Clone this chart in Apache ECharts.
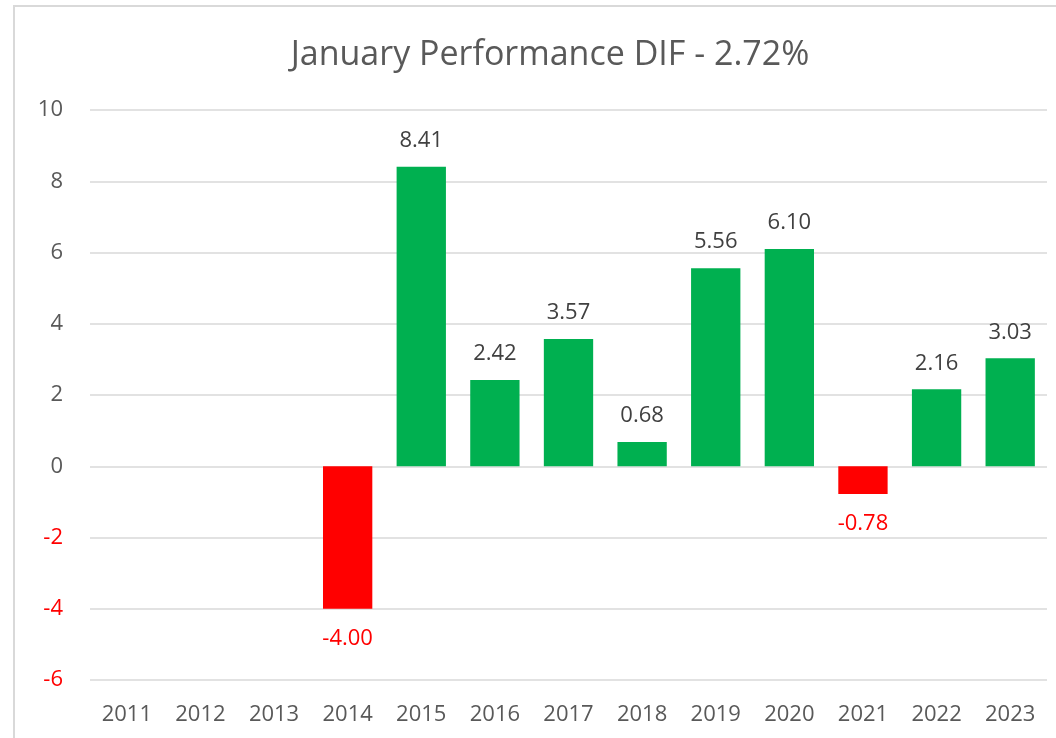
<!DOCTYPE html>
<html>
<head>
<meta charset="utf-8">
<script src="https://cdn.jsdelivr.net/npm/echarts@6/dist/echarts.min.js"></script>
<style>
  html, body { margin: 0; padding: 0; background: #fff; overflow: hidden; }
  #frame { position: absolute; left: 13px; top: 5px; width: 1100px; height: 800px; border: 2px solid #d9d9d9; box-sizing: border-box; }
  #main { position: absolute; left: 0; top: 0; width: 1056px; height: 738px; }
</style>
</head>
<body>
<div id="frame"></div>
<div id="main"></div>
<script>
// 年份
var years = ['2011', '2012', '2013', '2014', '2015', '2016', '2017', '2018', '2019', '2020', '2021', '2022', '2023'];
// 一月表现差值 (无数据年份为 null)
var difValues = [null, null, null, -4.00, 8.41, 2.42, 3.57, 0.68, 5.56, 6.10, -0.78, 2.16, 3.03];
var chartTitle = 'January Performance DIF - 2.72%';

var font = '"Open Sans", sans-serif';
var green = '#00B050';
var red = '#FF0000';

var seriesData = difValues.map(function (v) {
    if (v === null) return null;
    var neg = v < 0;
    return {
        value: v,
        itemStyle: { color: neg ? red : green },
        label: {
            position: neg ? 'bottom' : 'top',
            distance: neg ? 19 : 15,
            color: neg ? red : '#404040'
        }
    };
});

var myChart = echarts.init(document.getElementById('main'));
var options = {
    animation: false,
    title: {
        text: chartTitle,
        left: 545,
        textAlign: 'center',
        top: 33,
        textStyle: { fontFamily: font, fontSize: 34, fontWeight: 'normal', color: '#595959' }
    },
    grid: { left: 90, right: 9, top: 110, bottom: 58 },
    xAxis: {
        type: 'category',
        data: years,
        axisLine: { show: false },
        axisTick: { show: false },
        axisLabel: { fontFamily: font, fontSize: 22, color: '#595959', margin: 24 }
    },
    yAxis: {
        type: 'value',
        min: -6,
        max: 10,
        interval: 2,
        axisLine: { show: false },
        axisTick: { show: false },
        splitLine: { lineStyle: { color: '#d9d9d9', width: 1.5 } },
        axisLabel: {
            fontFamily: font,
            fontSize: 22,
            margin: 27,
            color: function (v) { return v < 0 ? red : '#595959'; }
        }
    },
    series: [{
        type: 'bar',
        data: seriesData,
        barCategoryGap: '33%',
        label: {
            show: true,
            fontFamily: font,
            fontSize: 22,
            formatter: function (p) { return p.value.toFixed(2); }
        }
    }]
};
myChart.setOption(options, true);
</script>
</body>
</html>
